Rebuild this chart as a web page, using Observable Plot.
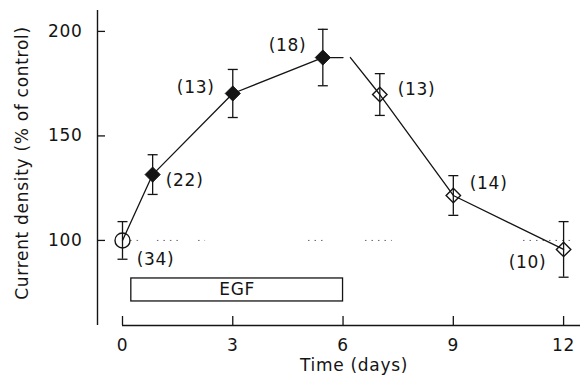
<!DOCTYPE html>
<html><head><meta charset="utf-8">
<script src="https://cdn.jsdelivr.net/npm/d3@7"></script>
<script src="https://cdn.jsdelivr.net/npm/@observablehq/plot@0.6"></script>
<style>body{margin:0;background:#fff}</style>
</head><body><div id="chart"></div>
<script>
// Data
const days = [0, 0.82, 3, 5.45, 7, 9, 12];
const density = [100, 131.5, 170.3, 187.5, 169.8, 121.5, 95.7];
const sem = [9, 9.5, 11.5, 13.5, 10, 9.5, 13.3];
const nCells = [34, 22, 13, 18, 13, 14, 10];
const phase = ["control", "EGF", "EGF", "EGF", "after", "after", "after"];
// n-label anchor positions (data units)
const labelDay = [0.9, 1.69, 1.99, 4.49, 8.0, 9.96, 11.02];
const labelDensity = [90.9, 128.7, 173.2, 193.3, 172.2, 127.3, 89.5];
// EGF treatment bar
const egfLabel = "EGF";
const egfDays = [0.24, 6];
const egfBand = [70.8, 81.8];
// end of the plateau stub and start of the falling segment
const stubEnd = {day: 6, value: 187.5};
const fallStart = {day: 6.2, value: 187.5};
// faint dotted control level (100%) pieces
const refLevel = 100;
const refPieces = [[0.22, 0.49], [0.95, 1.52], [2.07, 2.26], [5.06, 5.58], [6.61, 7.34], [10.91, 12.2]];
const xTicks = [0, 3, 6, 9, 12];
const yTicks = [100, 150, 200];
const xDomain = [-0.68, 12.46];
const yDomain = [59.3, 210];
const xLabel = "Time (days)";
const yLabel = "Current density (% of control)";

const pts = days.map((d, i) => ({day: d, value: density[i], err: sem[i], n: nCells[i], phase: phase[i], lx: labelDay[i], ly: labelDensity[i]}));
const rise = pts.filter(p => p.phase !== "after").concat([stubEnd]);
const fall = [fallStart].concat(pts.filter(p => p.phase === "after"));
const ref = refPieces.map(([a, b]) => ({a, b}));
const ink = "#141414";
const capSymbol = {draw(ctx, size) { const w = Math.sqrt(size / Math.PI); ctx.moveTo(-w, 0); ctx.lineTo(w, 0); }};

const chart = Plot.plot({
  width: 580, height: 381,
  marginLeft: 97, marginRight: 0, marginTop: 10, marginBottom: 56,
  style: {fontFamily: "DejaVu Sans", fontSize: "17px", letterSpacing: "0.7px", color: ink, background: "#fff"},
  x: {domain: xDomain},
  y: {domain: yDomain},
  marks: [
    Plot.ruleX([xDomain[0]], {stroke: ink, strokeWidth: 1.4}),
    Plot.ruleY([yDomain[0]], {x1: 0, x2: xDomain[1], stroke: ink, strokeWidth: 1.4}),
    Plot.axisX({ticks: xTicks, tickSize: -9, tickPadding: 22, label: null, stroke: ink, strokeWidth: 1.3}),
    Plot.axisY({ticks: yTicks, tickSize: -8, tickPadding: 23, label: null, stroke: ink, strokeWidth: 1.3}),
    Plot.text([xLabel], {frameAnchor: "bottom", textAnchor: "middle", dx: 15, dy: 40, lineAnchor: "middle", fill: ink}),
    Plot.text([yLabel], {frameAnchor: "left", textAnchor: "middle", rotate: -90, dx: -75, dy: -5, lineAnchor: "middle", fill: ink}),
    Plot.ruleY(ref, {y: () => refLevel, x1: "a", x2: "b", stroke: "#666", strokeWidth: 1, strokeDasharray: "1.5,5"}),
    Plot.rect([egfLabel], {x1: () => egfDays[0], x2: () => egfDays[1], y1: () => egfBand[0], y2: () => egfBand[1], fill: "none", stroke: ink, strokeWidth: 1.3}),
    Plot.text([egfLabel], {x: () => (egfDays[0] + egfDays[1]) / 2, y: () => (egfBand[0] + egfBand[1]) / 2, text: d => d, fill: ink}),
    Plot.line(rise, {x: "day", y: "value", stroke: ink, strokeWidth: 1.3}),
    Plot.line(fall, {x: "day", y: "value", stroke: ink, strokeWidth: 1.3}),
    Plot.ruleX(pts, {x: "day", y1: d => d.value - d.err, y2: d => d.value + d.err, stroke: ink, strokeWidth: 1.3}),
    Plot.dot(pts, {x: "day", y: d => d.value + d.err, symbol: capSymbol, r: 5, stroke: ink, strokeWidth: 1.3}),
    Plot.dot(pts, {x: "day", y: d => d.value - d.err, symbol: capSymbol, r: 5, stroke: ink, strokeWidth: 1.3}),
    Plot.dot(pts.filter(p => p.phase === "control"), {x: "day", y: "value", r: 7.5, fill: "none", stroke: ink, strokeWidth: 1.4}),
    Plot.dot(pts.filter(p => p.phase === "EGF"), {x: "day", y: "value", symbol: "diamond2", r: 6.8, fill: ink, stroke: ink, strokeWidth: 1}),
    Plot.dot(pts.filter(p => p.phase === "after"), {x: "day", y: "value", symbol: "diamond2", r: 6.5, fill: "none", stroke: ink, strokeWidth: 1.4}),
    Plot.text(pts, {x: "lx", y: "ly", text: d => `(${d.n})`, fill: ink})
  ]
});
document.getElementById("chart").appendChild(chart);
</script>
</body></html>
